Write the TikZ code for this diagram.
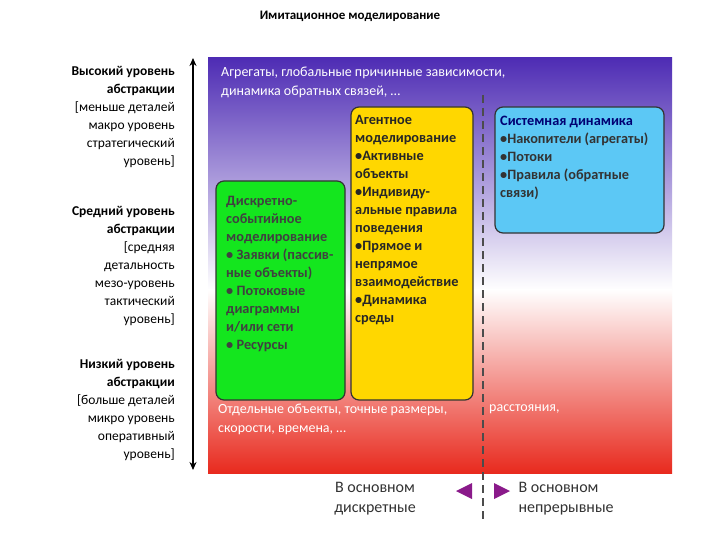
\documentclass[tikz,border=0pt]{standalone}
\usepackage{fontspec}
\setmainfont{Carlito}
\usetikzlibrary{arrows.meta}
\definecolor{purp}{HTML}{4E2CB4}
\definecolor{redb}{HTML}{E82A1E}
\definecolor{grn}{HTML}{14E61E}
\definecolor{yel}{HTML}{FFD700}
\definecolor{blu}{HTML}{5CC8F5}
\definecolor{arr}{HTML}{8A1A8A}
\tikzset{x=1pt,y=-1pt,
 box/.style={draw=black!80,line width=1.2pt,rounded corners=8pt},
 txt/.style={font=\fontsize{14.3}{18}\selectfont\bfseries,align=left,anchor=north west,inner sep=0pt},
 side/.style={font=\fontsize{13.5}{18}\selectfont,align=right,anchor=north east,inner sep=0pt},
 bg/.style={font=\fontsize{14}{19}\selectfont,text=white,anchor=north west,inner sep=0pt}}
\begin{document}
\begin{tikzpicture}
\useasboundingbox (0,0) rectangle (720,540);
\fill[white] (0,0) rectangle (720,540);
\node[font=\fontsize{13}{14}\selectfont\bfseries] (title) at (350,16) {Имитационное моделирование};
\shade[top color=purp,bottom color=white] (208,58) rectangle (672,290);
\shade[top color=white,bottom color=redb] (208,289.5) rectangle (672,473);
\node[bg,align=left] (tt) at (221,67) {Агрегаты, глобальные причинные зависимости,\\динамика обратных связей, …};
\node[bg,align=left] (tb) at (218,404) {Отдельные объекты, точные размеры,\\скорости, времена, …};
\node[bg] (tb2) at (489,404) {расстояния,};
\draw[box,fill=grn] (216,181) rectangle (345,400);
\draw[box,fill=yel] (351,107) rectangle (473,400);
\draw[box,fill=blu] (495,107) rectangle (664,233);
\node[txt,text=black!75] (g) at (226,196) {Дискретно-\\событийное\\моделирование\\• Заявки (пассив-\\ные объекты)\\• Потоковые\\диаграммы\\и/или сети\\• Ресурсы};
\node[txt,text=black!85] (y) at (355,115) {Агентное\\моделирование\\•Активные\\объекты\\•Индивиду-\\альные правила\\поведения\\•Прямое и\\непрямое\\взаимодействие\\•Динамика\\среды};
\node[txt,text=black!80] (b) at (500,116) {\textcolor{blue!45!black}{Системная динамика}\\•Накопители (агрегаты)\\•Потоки\\•Правила (обратные\\связи)};
\coordinate (d1) at (483,95); \coordinate (d2) at (483,520);
\draw[line width=2.5pt,black!70,dash pattern=on 8pt off 5pt] (d1) -- (d2);
\coordinate (a1) at (193,58); \coordinate (a2) at (193,470);
\draw[line width=1.8pt,{Stealth[length=8pt,width=7pt]}-{Stealth[length=8pt,width=7pt]}] (a1) -- (a2);
\node[side] (s1) at (175,66) {\textbf{Высокий уровень}\\\textbf{абстракции}\\{[}меньше деталей\\макро уровень\\стратегический\\уровень{]}};
\node[side] (s2) at (175,206) {\textbf{Средний уровень}\\\textbf{абстракции}\\{[}средняя\\детальность\\мезо-уровень\\тактический\\уровень{]}};
\node[side] (s3) at (175,359) {\textbf{Низкий уровень}\\\textbf{абстракции}\\{[}больше деталей\\микро уровень\\оперативный\\уровень{]}};
\node[font=\fontsize{16}{20}\selectfont,align=center,text=black!80] (l) at (375,499) {В основном\\дискретные};
\node[font=\fontsize{16}{20}\selectfont,align=left,text=black!80,anchor=west] (r) at (515,499) {В основном\\непрерывные};
\fill[arr] (456,491) -- (472,483) -- (472,499) -- cycle;
\fill[arr] (510,491) -- (494,483) -- (494,499) -- cycle;
\end{tikzpicture}
\end{document}
